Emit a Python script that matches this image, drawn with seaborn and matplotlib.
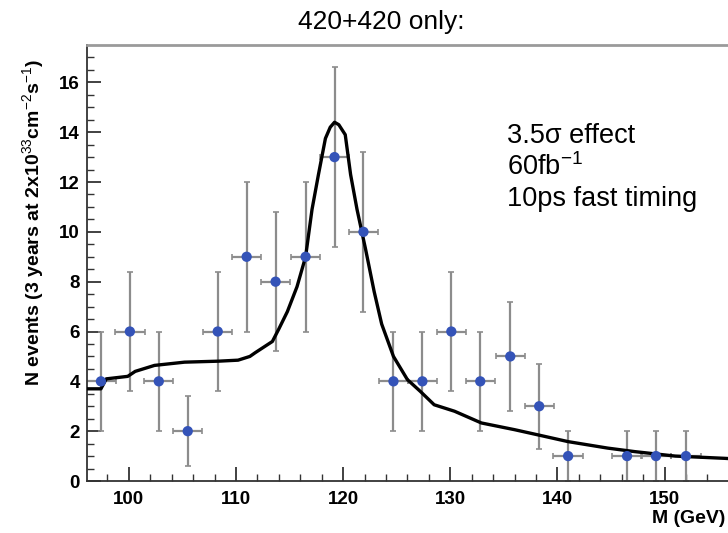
import numpy as np
import pandas as pd
import matplotlib
matplotlib.use("Agg")
import matplotlib.pyplot as plt
import seaborn as sns

# --- data ---
mass = [97.4, 100.1, 102.8, 105.5, 108.3, 111.0, 113.7, 116.5, 119.2, 121.9,
        124.7, 127.4, 130.1, 132.8, 135.6, 138.3, 141.0, 146.5, 149.2, 152.0]
events = [4, 6, 4, 2, 6, 9, 8, 9, 13, 10, 4, 4, 6, 4, 5, 3, 1, 1, 1, 1]
yerr = [2.0, 2.4, 2.0, 1.4, 2.4, 3.0, 2.8, 3.0, 3.6, 3.2,
        2.0, 2.0, 2.4, 2.0, 2.2, 1.7, 1.0, 1.0, 1.0, 1.0]
xerr = [1.37] * len(mass)

fit_x = [96.0, 97.4, 97.9, 99.9, 100.6, 102.4, 105.2, 108.4, 110.2, 111.3,
         111.8, 113.4, 114.0, 114.8, 115.7, 116.5, 117.1, 117.7, 118.35, 118.8,
         119.2, 119.6, 120.2, 120.7, 121.3, 122.1, 122.9, 123.6, 124.7, 126.0,
         127.2, 128.5, 130.4, 132.9, 136.0, 138.2, 141.0, 144.7, 147.2, 151.0,
         155.6, 156.0]
fit_y = [3.7, 3.7, 4.1, 4.2, 4.4, 4.64, 4.77, 4.81, 4.85, 5.0,
         5.15, 5.6, 6.1, 6.8, 7.8, 9.0, 10.9, 12.3, 13.75, 14.2,
         14.4, 14.3, 13.9, 12.3, 10.9, 9.3, 7.6, 6.3, 5.0, 4.07,
         3.6, 3.06, 2.8, 2.33, 2.06, 1.85, 1.58, 1.32, 1.18, 1.0,
         0.91, 0.9]

title = "420+420 only:"
ylabel = r"N events (3 years at 2x10$^{33}$cm$^{-2}$s$^{-1}$)"
xlabel = "M (GeV)"
notes = ["3.5σ effect", r"60fb$^{-1}$", "10ps fast timing"]
xticks = [100, 110, 120, 130, 140, 150]
yticks = [0, 2, 4, 6, 8, 10, 12, 14, 16]

sns.set_theme(style="white")
plt.rcParams['font.family'] = ['Liberation Sans', 'DejaVu Sans']
plt.rcParams['mathtext.fontset'] = 'custom'
plt.rcParams['mathtext.rm'] = 'Liberation Sans'
plt.rcParams['mathtext.bf'] = 'Liberation Sans:bold'
plt.rcParams['text.color'] = 'black'
plt.rcParams['xtick.color'] = '#333333'
plt.rcParams['ytick.color'] = '#333333'
plt.rcParams['xtick.labelcolor'] = 'black'
plt.rcParams['ytick.labelcolor'] = 'black'

fig = plt.figure(figsize=(7.28, 5.33), dpi=100)
ax = fig.add_axes([87/728, 1 - 481/533, 1 - 87/728 + 0.01, 436/533])

pts = pd.DataFrame({"M": mass, "N": events})
fit = pd.DataFrame({"M": fit_x, "N": fit_y})

ax.errorbar(mass, events, yerr=yerr, xerr=xerr, fmt='none',
            ecolor='#8c8c8c', elinewidth=1.6, capsize=2, capthick=1.2, zorder=2)
sns.lineplot(data=fit, x="M", y="N", sort=False, estimator=None,
             color='black', linewidth=2.4, ax=ax, zorder=3)
sns.scatterplot(data=pts, x="M", y="N", color='#3453b8', s=55,
                edgecolor='none', ax=ax, zorder=4)

ax.set_xlim(96.1, 156.6)
ax.set_ylim(0, 17.5)
ax.set_xticks(xticks)
ax.set_yticks(yticks)
ax.set_xticks(np.arange(98, 157, 2), minor=True)
ax.set_yticks(np.arange(0, 17.5, 0.5), minor=True)
ax.tick_params(axis='both', which='both', direction='in',
               bottom=True, left=True, top=False, right=False)
ax.tick_params(axis='both', which='major', length=10, width=1.3, labelsize=13.5)
ax.tick_params(axis='both', which='minor', length=5, width=1.0)
for lab in ax.get_xticklabels() + ax.get_yticklabels():
    lab.set_fontweight('bold')
ax.tick_params(axis='x', which='major', pad=7)
ax.tick_params(axis='y', which='major', pad=5)

ax.set_xlabel("")
ax.set_ylabel("")
for side in ['left', 'bottom']:
    ax.spines[side].set_color('#333333')
    ax.spines[side].set_linewidth(1.3)
ax.spines['top'].set_color('#9a9a9a')
ax.spines['top'].set_linewidth(2.0)
ax.spines['right'].set_visible(False)

fig.text(34/728, 1 - 222/533, ylabel, rotation=90, ha='center', va='center',
         fontsize=14, fontweight='bold')
fig.text(652/728, 1 - 523/533, xlabel, ha='left', va='baseline',
         fontsize=14, fontweight='bold')
fig.text(381/728, 1 - 22/533, title, ha='center', va='center', fontsize=19,
         family=['Liberation Sans Narrow', 'Liberation Sans', 'DejaVu Sans'])

baselines = [143, 175, 206]
for t, b in zip(notes, baselines):
    fig.text(507/728, 1 - b/533, t, ha='left', va='baseline', fontsize=19.5)

fig.savefig("out.png", dpi=100)
